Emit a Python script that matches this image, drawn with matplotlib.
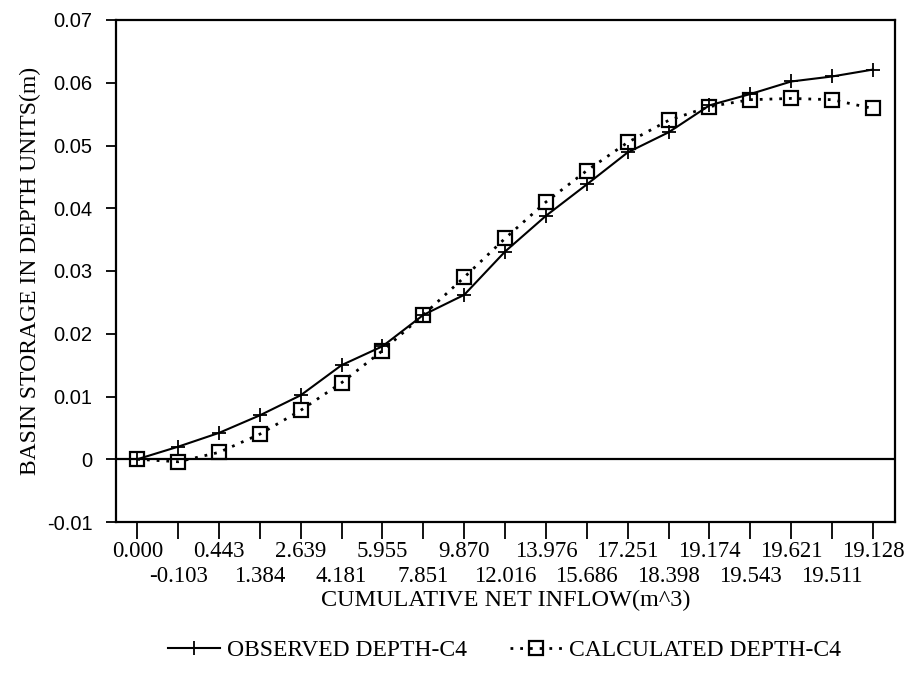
import matplotlib
matplotlib.use("Agg")
import matplotlib.pyplot as plt

inflow_labels = ["0.000", "-0.103", "0.443", "1.384", "2.639", "4.181", "5.955",
                 "7.851", "9.870", "12.016", "13.976", "15.686", "17.251", "18.398",
                 "19.174", "19.543", "19.621", "19.511", "19.128"]
observed = [0.0, 0.0020, 0.0042, 0.0070, 0.0102, 0.0150, 0.0180, 0.0230, 0.0262,
            0.0331, 0.0388, 0.0438, 0.0489, 0.0521, 0.0564, 0.0582, 0.0602, 0.0610, 0.0621]
calculated = [0.0, -0.0004, 0.0011, 0.0040, 0.0078, 0.0122, 0.0173, 0.0230, 0.0290,
              0.0352, 0.0410, 0.0460, 0.0505, 0.0540, 0.0562, 0.0573, 0.0575, 0.0573, 0.0559]
y_ticks = [-0.01, 0.0, 0.01, 0.02, 0.03, 0.04, 0.05, 0.06, 0.07]
y_tick_labels = ["-0.01", "0", "0.01", "0.02", "0.03", "0.04", "0.05", "0.06", "0.07"]

serif = "Liberation Serif"
sans = "Liberation Sans"

fig = plt.figure(figsize=(9.12, 6.83), dpi=100)
ax = fig.add_axes([116/912, 1-522/683, (895-116)/912, (522-20)/683])

x = list(range(len(inflow_labels)))
ax.axhline(0, color="black", lw=1.6, zorder=1)
l1, = ax.plot(x, observed, color="black", lw=1.5, marker="+", ms=10, mew=1.3,
              label="OBSERVED DEPTH-C4", zorder=3)
l2, = ax.plot(x, calculated, color="black", lw=2.0, ls=(0, (1, 2.5)), marker="s", ms=10,
              mfc="none", mec="black", mew=1.6, label="CALCULATED DEPTH-C4", zorder=3)

ax.set_xlim(-0.52, 18.54)
ax.set_ylim(-0.01, 0.07)
ax.set_yticks(y_ticks)
ax.set_yticklabels(y_tick_labels, fontfamily=sans, fontsize=14.5)

even = x[0::2]
odd = x[1::2]
ax.set_xticks(even)
ax.set_xticklabels(inflow_labels[0::2], fontfamily=serif, fontsize=16.5)
ax.set_xticks(odd, minor=True)
ax.set_xticklabels(inflow_labels[1::2], minor=True, fontfamily=serif, fontsize=16.5)
ax.tick_params(axis="x", which="major", direction="out", length=12, width=1.3, pad=1.5)
ax.tick_params(axis="x", which="minor", direction="out", length=12, width=1.3, pad=20)
ax.tick_params(axis="y", direction="out", length=7, width=1.3, pad=10)
for s in ax.spines.values():
    s.set_linewidth(1.6)

ax.set_xlabel("CUMULATIVE NET INFLOW(m^3)", fontfamily=serif, fontsize=17.5, labelpad=2)
ax.set_ylabel("BASIN STORAGE IN DEPTH UNITS(m)", fontfamily=serif, fontsize=17, labelpad=4)

fig.legend(handles=[l1, l2], loc="center", bbox_to_anchor=(0.553, 0.048), ncol=2,
           frameon=False, prop={"family": serif, "size": 17}, handlelength=2.2,
           columnspacing=1.8, handletextpad=0.3)

fig.savefig("out.png", dpi=100)
